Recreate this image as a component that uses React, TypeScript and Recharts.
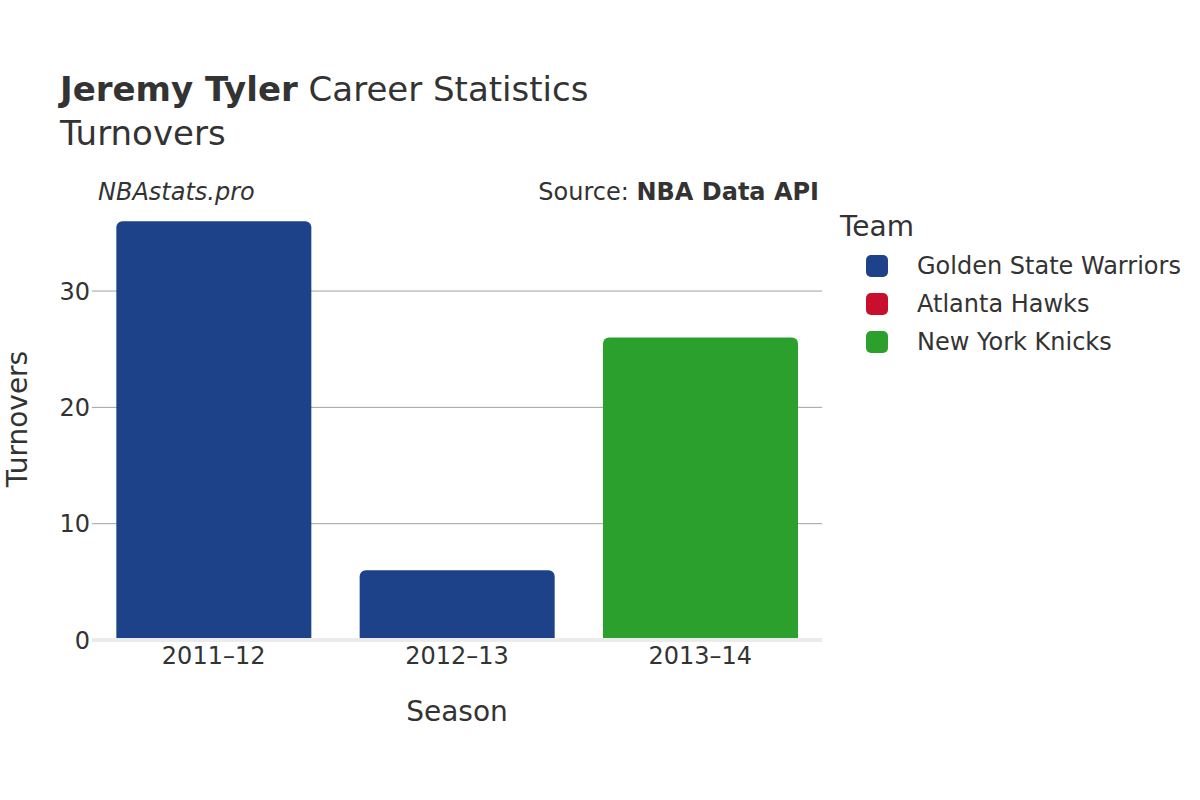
import React from "react";
import { BarChart, Bar, Cell, CartesianGrid, XAxis, YAxis } from "recharts";

const seasons = ["2011–12", "2012–13", "2013–14"];
const turnovers = [36, 6, 26];
const seasonTeams = ["Golden State Warriors", "Golden State Warriors", "New York Knicks"];

const teams = ["Golden State Warriors", "Atlanta Hawks", "New York Knicks"];
const teamColors = ["#1d428a", "#c8102e", "#2ca02c"];

const yTicks = [0, 10, 20, 30];
const gridValues = [10, 20, 30];

const FONT = "'DejaVu Sans', sans-serif";
const TEXT = "#333333";

const data = seasons.map((season, i) => ({
  season,
  turnovers: turnovers[i],
  team: seasonTeams[i],
}));

const colorOf = (team: string) => teamColors[teams.indexOf(team)];

export default function App() {
  return (
    <div
      style={{
        position: "absolute",
        left: 0,
        top: 0,
        width: 1200,
        height: 800,
        background: "#fff",
        fontFamily: FONT,
        color: TEXT,
      }}
    >
      <div style={{ position: "absolute", left: 60, top: 69, fontSize: 34, lineHeight: "40px", whiteSpace: "nowrap" }}>
        <b>Jeremy Tyler</b> Career Statistics
      </div>
      <div style={{ position: "absolute", left: 60, top: 113, fontSize: 34, lineHeight: "40px" }}>Turnovers</div>

      <BarChart
        width={1200}
        height={800}
        data={data}
        margin={{ top: 198, right: 378, bottom: 110, left: 2 }}
        barCategoryGap="10%"
        style={{ position: "absolute", left: 0, top: 0 }}
      >
        <CartesianGrid vertical={false} horizontalValues={gridValues} stroke="#a0a0a0" strokeWidth={1} />
        <XAxis
          dataKey="season"
          height={50}
          tickLine={false}
          tickSize={0}
          tickMargin={7}
          axisLine={{ stroke: "#ebebeb", strokeWidth: 4 }}
          tick={{ fontFamily: FONT, fontSize: 24, fill: TEXT }}
          label={{ value: "Season", position: "insideBottom", offset: -31, style: { fontFamily: FONT, fontSize: 28, fill: TEXT } }}
        />
        <YAxis
          width={90}
          domain={[0, 38]}
          ticks={yTicks}
          tickLine={false}
          tickSize={0}
          tickMargin={2}
          axisLine={false}
          tick={{ fontFamily: FONT, fontSize: 24, fill: TEXT }}
          label={{
            value: "Turnovers",
            angle: -90,
            position: "insideLeft",
            offset: 15,
            style: { fontFamily: FONT, fontSize: 28, fill: TEXT, textAnchor: "middle" },
          }}
        />
        <Bar dataKey="turnovers" radius={[6, 6, 0, 0]} isAnimationActive={false}>
          {data.map((d) => (
            <Cell key={d.season} fill={colorOf(d.team)} />
          ))}
        </Bar>
      </BarChart>

      <div style={{ position: "absolute", left: 98, top: 178, fontSize: 24, fontStyle: "italic", lineHeight: "28px" }}>
        NBAstats.pro
      </div>
      <div
        style={{ position: "absolute", right: 1200 - 819, top: 178, fontSize: 24, lineHeight: "28px", whiteSpace: "nowrap" }}
      >
        Source: <b>NBA Data API</b>
      </div>

      <div style={{ position: "absolute", left: 840, top: 210, fontSize: 28, lineHeight: "34px" }}>Team</div>
      {teams.map((t, i) => (
        <div
          key={t}
          style={{ position: "absolute", left: 866, top: 254 + i * 38, height: 24, display: "flex", alignItems: "center" }}
        >
          <div style={{ width: 22, height: 22, borderRadius: 5, background: teamColors[i] }} />
          <div style={{ marginLeft: 29, fontSize: 24, whiteSpace: "nowrap" }}>{t}</div>
        </div>
      ))}
    </div>
  );
}
